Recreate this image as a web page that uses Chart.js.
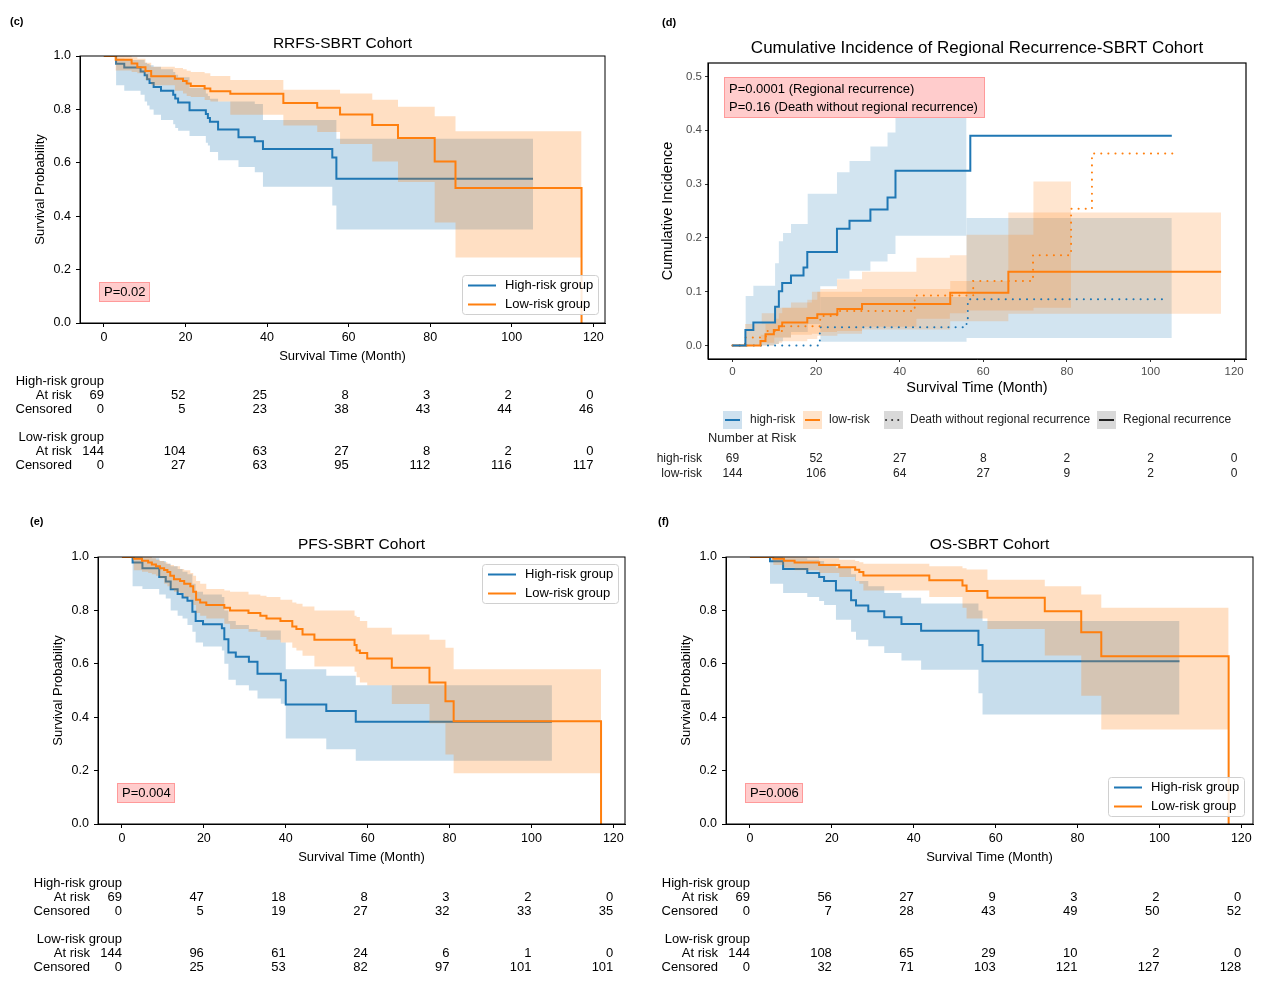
<!DOCTYPE html>
<html>
<head>
<meta charset="utf-8">
<script src="https://cdn.jsdelivr.net/npm/chart.js@4.4.0/dist/chart.umd.min.js"></script>
<style>
  body { margin: 0; background: #fff; }
  #wrap { position: relative; width: 1269px; height: 1007px; background: #fff; }
  #wrap canvas { position: absolute; left: 0; top: 0; }
</style>
</head>
<body>
<div id="wrap">
  <canvas id="panelC" width="1269" height="1007"></canvas>
  <canvas id="panelD" width="1269" height="1007"></canvas>
  <canvas id="panelE" width="1269" height="1007"></canvas>
  <canvas id="panelF" width="1269" height="1007"></canvas>
</div>
<script>
// ---- shared ticks ----
const xTicks = [0, 20, 40, 60, 80, 100, 120];
const survTicks = [0, 0.2, 0.4, 0.6, 0.8, 1.0];
const ciTicks = [0, 0.1, 0.2, 0.3, 0.4, 0.5];

// ---- (c) RRFS ----
const cHighT  = [0, 3, 5, 9, 10, 10.6, 11.2, 12.2, 14, 17, 17.5, 18.2, 21, 25, 25.5, 26, 28, 33, 37, 39, 56, 57, 105.2];
const cHighS  = [1, 0.971, 0.957, 0.942, 0.928, 0.913, 0.899, 0.884, 0.870, 0.855, 0.841, 0.826, 0.797, 0.783, 0.768, 0.754, 0.725, 0.696, 0.681, 0.652, 0.62, 0.54, 0.54];
const cHighLo = [1, 0.89, 0.87, 0.855, 0.83, 0.815, 0.80, 0.78, 0.76, 0.744, 0.73, 0.72, 0.70, 0.675, 0.665, 0.64, 0.61, 0.584, 0.565, 0.51, 0.44, 0.35, 0.35];
const cHighUp = [1, 0.99, 0.985, 0.985, 0.975, 0.97, 0.965, 0.96, 0.95, 0.94, 0.93, 0.92, 0.88, 0.86, 0.85, 0.84, 0.83, 0.83, 0.82, 0.76, 0.76, 0.69, 0.69];
const cLowT   = [0, 2.9, 6.8, 8.2, 10.2, 11.6, 17.4, 19.4, 20.3, 21.3, 24.7, 26.1, 31, 44, 52.3, 57.9, 65.8, 72.1, 81.1, 86.2, 117.1];
const cLowS   = [1, 0.986, 0.972, 0.958, 0.944, 0.924, 0.915, 0.906, 0.897, 0.888, 0.878, 0.868, 0.859, 0.824, 0.806, 0.781, 0.742, 0.693, 0.605, 0.506, 0];
const cLowLo  = [1, 0.946, 0.94, 0.935, 0.91, 0.89, 0.87, 0.86, 0.85, 0.846, 0.835, 0.83, 0.78, 0.74, 0.715, 0.67, 0.605, 0.528, 0.376, 0.245, 0.245];
const cLowUp  = [1, 1, 0.995, 0.99, 0.975, 0.96, 0.955, 0.95, 0.945, 0.94, 0.935, 0.925, 0.91, 0.874, 0.874, 0.86, 0.836, 0.81, 0.774, 0.718, 0.718];
const cHighAtRisk   = [69, 52, 25, 8, 3, 2, 0];
const cHighCensored = [0, 5, 23, 38, 43, 44, 46];
const cLowAtRisk    = [144, 104, 63, 27, 8, 2, 0];
const cLowCensored  = [0, 27, 63, 95, 112, 116, 117];

// ---- (d) cumulative incidence ----
const dHighRRT  = [0, 3.1, 5, 10.2, 11.1, 11.9, 14, 17, 17.9, 25, 28, 33, 37.1, 39, 56.9, 105.1];
const dHighRRV  = [0, 0.029, 0.043, 0.072, 0.101, 0.116, 0.130, 0.145, 0.174, 0.217, 0.232, 0.253, 0.275, 0.325, 0.39, 0.39];
const dHighDT   = [0, 20.9, 56, 56.3, 104.2];
const dHighDV   = [0, 0.034, 0.043, 0.086, 0.086];
const dLowRRT   = [0, 6.7, 7.9, 9.9, 11.1, 11.9, 17.9, 20.3, 25.1, 31, 52.1, 66, 116.9];
const dLowRRV   = [0, 0.0085, 0.021, 0.029, 0.036, 0.043, 0.051, 0.058, 0.068, 0.077, 0.098, 0.137, 0.137];
const dLowDT    = [0, 3, 8, 12, 21, 25, 43.6, 57.6, 71.9, 81, 86, 106];
const dLowDV    = [0, 0.015, 0.027, 0.036, 0.055, 0.064, 0.093, 0.12, 0.168, 0.254, 0.357, 0.357];
const dHighRRBandT  = [3.1, 5, 10.2, 11.1, 12.1, 14, 18, 21, 25, 28, 33, 37.1, 39, 56];
const dHighRRBandLo = [0, 0, 0.003, 0.008, 0.015, 0.025, 0.04, 0.11, 0.124, 0.139, 0.156, 0.17, 0.204, 0.204];
const dHighRRBandUp = [0.092, 0.111, 0.153, 0.194, 0.209, 0.226, 0.282, 0.282, 0.322, 0.343, 0.37, 0.396, 0.45, 0.45];
const dHighDBandT   = [21, 56, 105.1];
const dHighDBandLo  = [0.007, 0.014, 0.014];
const dHighDBandUp  = [0.09, 0.237, 0.237];
const dLowRRBandT   = [6.7, 7.9, 9.9, 11.1, 11.9, 17.9, 20.3, 25.1, 31, 52.1, 66, 116.9];
const dLowRRBandLo  = [0, 0, 0.003, 0.005, 0.008, 0.012, 0.018, 0.022, 0.03, 0.045, 0.059, 0.059];
const dLowRRBandUp  = [0.02, 0.04, 0.05, 0.06, 0.07, 0.085, 0.1, 0.1, 0.105, 0.12, 0.247, 0.247];
const dLowDBandT    = [3, 7, 10, 14, 19, 21, 25, 31, 44, 52, 56, 72, 81];
const dLowDBandLo   = [0, 0.005, 0.015, 0.02, 0.022, 0.025, 0.027, 0.035, 0.05, 0.06, 0.065, 0.07, 0.07];
const dLowDBandUp   = [0.04, 0.06, 0.07, 0.08, 0.1, 0.105, 0.123, 0.137, 0.163, 0.168, 0.206, 0.305, 0.305];
const dHighAtRisk = [69, 52, 27, 8, 2, 2, 0];
const dLowAtRisk  = [144, 106, 64, 27, 9, 2, 0];

// ---- (e) PFS ----
const eHighT  = [0, 2.6, 5, 9.1, 10.7, 11.9, 13.6, 14.8, 16, 17.2, 18, 19.8, 24.4, 25, 26, 27.8, 31, 33.1, 38.8, 40, 49.9, 57.1, 105];
const eHighS  = [1, 0.979, 0.958, 0.925, 0.908, 0.879, 0.861, 0.848, 0.836, 0.795, 0.76, 0.748, 0.733, 0.692, 0.642, 0.626, 0.608, 0.563, 0.538, 0.448, 0.423, 0.383, 0.383];
const eHighLo = [1, 0.89, 0.88, 0.86, 0.845, 0.80, 0.78, 0.77, 0.745, 0.72, 0.68, 0.665, 0.65, 0.60, 0.54, 0.52, 0.50, 0.47, 0.45, 0.32, 0.28, 0.237, 0.237];
const eHighUp = [1, 1, 0.995, 0.985, 0.975, 0.965, 0.955, 0.945, 0.935, 0.90, 0.87, 0.86, 0.85, 0.80, 0.76, 0.745, 0.73, 0.725, 0.68, 0.58, 0.555, 0.52, 0.52];
const eLowT   = [0, 2.9, 4.9, 6.4, 7.3, 8.3, 9.3, 10.3, 11.1, 11.8, 12.7, 14.2, 15.2, 16.7, 17.4, 18.1, 19.1, 20.6, 25, 26.4, 30.9, 33.8, 35.3, 38.7, 41.6, 42.6, 44.1, 47, 56.8, 57.3, 58.1, 59.9, 65.9, 75.1, 79, 81, 117];
const eLowS   = [1, 0.993, 0.986, 0.979, 0.972, 0.965, 0.958, 0.951, 0.944, 0.930, 0.917, 0.910, 0.900, 0.890, 0.870, 0.840, 0.830, 0.820, 0.810, 0.800, 0.790, 0.780, 0.770, 0.760, 0.740, 0.730, 0.710, 0.690, 0.670, 0.650, 0.640, 0.620, 0.585, 0.530, 0.460, 0.385, 0];
const eLowLo  = [1, 0.95, 0.945, 0.94, 0.935, 0.93, 0.92, 0.90, 0.89, 0.88, 0.87, 0.865, 0.85, 0.84, 0.82, 0.79, 0.78, 0.77, 0.75, 0.73, 0.72, 0.70, 0.69, 0.68, 0.66, 0.65, 0.63, 0.59, 0.57, 0.55, 0.53, 0.52, 0.449, 0.377, 0.26, 0.19, 0.19];
const eLowUp  = [1, 1, 1, 1, 0.995, 0.99, 0.985, 0.98, 0.975, 0.97, 0.965, 0.955, 0.95, 0.94, 0.93, 0.91, 0.90, 0.88, 0.875, 0.87, 0.86, 0.855, 0.85, 0.84, 0.83, 0.825, 0.815, 0.80, 0.78, 0.775, 0.76, 0.735, 0.71, 0.69, 0.66, 0.58, 0.58];
const eHighAtRisk   = [69, 47, 18, 8, 3, 2, 0];
const eHighCensored = [0, 5, 19, 27, 32, 33, 35];
const eLowAtRisk    = [144, 96, 61, 24, 6, 1, 0];
const eLowCensored  = [0, 25, 53, 82, 97, 101, 101];

// ---- (f) OS ----
const fHighT  = [0, 4.9, 8.1, 14, 16.9, 18.1, 21, 24.7, 25.9, 28.9, 32.8, 37, 41.8, 55.8, 56.8, 104.9];
const fHighS  = [1, 0.984, 0.955, 0.94, 0.925, 0.91, 0.875, 0.838, 0.818, 0.797, 0.774, 0.749, 0.724, 0.67, 0.61, 0.61];
const fHighLo = [1, 0.90, 0.865, 0.85, 0.835, 0.82, 0.765, 0.72, 0.69, 0.666, 0.64, 0.612, 0.578, 0.49, 0.41, 0.41];
const fHighUp = [1, 1, 0.995, 0.99, 0.985, 0.975, 0.96, 0.935, 0.91, 0.89, 0.865, 0.847, 0.826, 0.80, 0.76, 0.76];
const fLowT   = [0, 5.7, 8.3, 10.9, 16.9, 21.8, 25.7, 26.7, 27.7, 43.8, 51.9, 52.9, 58, 72, 80.9, 85.8, 116.9];
const fLowS   = [1, 0.993, 0.986, 0.979, 0.970, 0.962, 0.952, 0.944, 0.931, 0.913, 0.893, 0.873, 0.847, 0.797, 0.718, 0.628, 0];
const fLowLo  = [1, 0.97, 0.96, 0.95, 0.94, 0.925, 0.91, 0.90, 0.875, 0.85, 0.81, 0.77, 0.73, 0.631, 0.48, 0.354, 0.354];
const fLowUp  = [1, 1, 1, 1, 0.995, 0.99, 0.985, 0.98, 0.975, 0.965, 0.958, 0.953, 0.915, 0.89, 0.86, 0.81, 0.81];
const fHighAtRisk   = [69, 56, 27, 9, 3, 2, 0];
const fHighCensored = [0, 7, 28, 43, 49, 50, 52];
const fLowAtRisk    = [144, 108, 65, 29, 10, 2, 0];
const fLowCensored  = [0, 32, 71, 103, 121, 127, 128];

// ---- styling ----
const FONT = '"Liberation Sans", Arial, Helvetica, sans-serif';
const BLUE = '#1f77b4';
const ORANGE = '#ff7f0e';
const BLUE_BAND = 'rgba(31,119,180,0.25)';
const ORANGE_BAND = 'rgba(255,127,14,0.25)';
const W = 1269, H = 1007;

const pts = (t, v) => t.map((x, i) => ({ x, y: v[i] }));

function text(ctx, str, x, y, o = {}) {
  ctx.save();
  ctx.font = `${o.weight || 'normal'} ${o.size || 13}px ${FONT}`;
  ctx.fillStyle = o.color || '#000';
  ctx.textAlign = o.align || 'left';
  ctx.textBaseline = 'middle';
  if (o.rot) {
    ctx.translate(x, y);
    ctx.rotate(o.rot);
    ctx.fillText(str, 0, 0);
  } else {
    ctx.fillText(str, x, y);
  }
  ctx.restore();
}

function pBox(ctx, lines, x, y, w, h, size, lineYs) {
  ctx.save();
  ctx.fillStyle = '#ffcccc';
  ctx.strokeStyle = '#ff9a9a';
  ctx.lineWidth = 1;
  ctx.fillRect(x, y, w, h);
  ctx.strokeRect(x + 0.5, y + 0.5, w - 1, h - 1);
  ctx.restore();
  lines.forEach((s, i) => text(ctx, s, x + 5, y + lineYs[i], { size }));
}

function mplLegend(ctx, x, y, w, h) {
  ctx.save();
  ctx.fillStyle = 'rgba(255,255,255,0.85)';
  ctx.strokeStyle = '#d0d0d0';
  ctx.lineWidth = 1;
  ctx.beginPath();
  ctx.roundRect(x + 0.5, y + 0.5, w, h, 3);
  ctx.fill();
  ctx.stroke();
  [[BLUE, 'High-risk group'], [ORANGE, 'Low-risk group']].forEach(([c, s], i) => {
    const yy = y + 10.5 + i * 19;
    ctx.strokeStyle = c;
    ctx.lineWidth = 2;
    ctx.beginPath();
    ctx.moveTo(x + 6, yy);
    ctx.lineTo(x + 34, yy);
    ctx.stroke();
    text(ctx, s, x + 43, yy, { size: 13 });
  });
  ctx.restore();
}

function bandLow(t, v, order) {
  return { data: pts(t, v), borderWidth: 0, borderColor: 'rgba(0,0,0,0)', pointRadius: 0, stepped: 'before', fill: false, order };
}
function bandHigh(t, v, color, order) {
  return { data: pts(t, v), borderWidth: 0, borderColor: 'rgba(0,0,0,0)', pointRadius: 0, stepped: 'before', fill: '-1', backgroundColor: color, order };
}
function stepLine(t, v, color, order, dash) {
  return { data: pts(t, v), borderColor: color, borderWidth: 2, pointRadius: 0, stepped: 'before', fill: false, order, borderDash: dash || [], borderCapStyle: dash ? 'round' : 'butt' };
}

function axisOpts(min, max, ticks, fmt, fit, font, tickColor, labelColor, tickLen, pad) {
  return {
    type: 'linear', min, max,
    afterBuildTicks: s => { s.ticks = ticks.map(v => ({ value: v })); },
    afterFit: fit,
    grid: { drawOnChartArea: false, drawTicks: true, tickLength: tickLen, color: tickColor, tickColor },
    border: { display: true, color: '#000', width: 1 },
    ticks: { autoSkip: false, maxRotation: 0, padding: pad, color: labelColor, font: { family: FONT, size: font }, callback: fmt }
  };
}

// KM panel with risk table (panels c, e, f)
function kmChart(id, box, d) {
  const Wy = 45, Hx = 22;
  new Chart(document.getElementById(id), {
    type: 'line',
    data: {
      datasets: [
        bandLow(d.hiT, d.hiLo, 4), bandHigh(d.hiT, d.hiUp, BLUE_BAND, 4),
        stepLine(d.hiT, d.hiS, BLUE, 3),
        bandLow(d.loT, d.loLo, 2), bandHigh(d.loT, d.loUp, ORANGE_BAND, 2),
        stepLine(d.loT, d.loS, ORANGE, 1)
      ]
    },
    options: {
      responsive: false, animation: false, events: [],
      layout: { padding: { left: box.L - Wy, right: W - box.R, top: box.T, bottom: H - box.B - Hx } },
      plugins: { legend: { display: false }, tooltip: { enabled: false } },
      scales: {
        x: axisOpts(-5.85, 122.85, xTicks, v => String(v), s => { s.height = Hx; }, 12.5, '#000', '#000', 4, 3),
        y: axisOpts(0, 1, survTicks, v => v.toFixed(1), s => { s.width = Wy; }, 12.5, '#000', '#000', 4, 5)
      }
    },
    plugins: [{
      id: 'deco' + id,
      afterDatasetsDraw(chart) {
        const { ctx, chartArea: a } = chart;
        ctx.save();
        ctx.strokeStyle = '#000';
        ctx.lineWidth = 1;
        ctx.strokeRect(a.left, a.top, a.right - a.left, a.bottom - a.top);
        ctx.restore();
      },
      afterDraw(chart) {
        const { ctx, chartArea: a } = chart;
        const cx = (a.left + a.right) / 2;
        text(ctx, d.panel, d.panelX, d.panelY, { size: 11, weight: 'bold' });
        text(ctx, d.title, cx, a.top - 12, { size: 15.5, align: 'center' });
        text(ctx, 'Survival Time (Month)', cx, a.bottom + 33, { size: 13, align: 'center' });
        text(ctx, 'Survival Probability', a.left - 40, (a.top + a.bottom) / 2, { size: 13, align: 'center', rot: -Math.PI / 2 });
        pBox(ctx, [d.p], a.left + d.pDx, a.bottom - 41, d.pW, 20, 13, [10.5]);
        mplLegend(ctx, d.legX, d.legY, 136, 39);
        // risk table
        const xs = xTicks.map(v => chart.scales.x.getPixelForValue(v));
        const x0 = xs[0];
        const rows = [
          { group: 'High-risk group' },
          { label: 'At risk', vals: d.hiRisk },
          { label: 'Censored', vals: d.hiCens },
          { group: 'Low-risk group' },
          { label: 'At risk', vals: d.loRisk },
          { label: 'Censored', vals: d.loCens }
        ];
        rows.forEach((r, i) => {
          const y = d.tableY[i];
          if (r.group) {
            text(ctx, r.group, x0, y, { align: 'right', size: 13 });
          } else {
            text(ctx, r.label, x0 - 32, y, { align: 'right', size: 13 });
            r.vals.forEach((v, j) => text(ctx, String(v), xs[j], y, { align: 'right', size: 13 }));
          }
        });
      }
    }]
  });
}

kmChart('panelC', { L: 80, T: 56, R: 605, B: 323 }, {
  hiT: cHighT, hiS: cHighS, hiLo: cHighLo, hiUp: cHighUp,
  loT: cLowT, loS: cLowS, loLo: cLowLo, loUp: cLowUp,
  hiRisk: cHighAtRisk, hiCens: cHighCensored, loRisk: cLowAtRisk, loCens: cLowCensored,
  title: 'RRFS-SBRT Cohort', p: 'P=0.02', pDx: 19, pW: 51,
  panel: '(c)', panelX: 10, panelY: 22,
  legX: 462, legY: 275,
  tableY: [381, 395, 409, 437, 451, 465]
});

kmChart('panelE', { L: 98, T: 557, R: 625, B: 824 }, {
  hiT: eHighT, hiS: eHighS, hiLo: eHighLo, hiUp: eHighUp,
  loT: eLowT, loS: eLowS, loLo: eLowLo, loUp: eLowUp,
  hiRisk: eHighAtRisk, hiCens: eHighCensored, loRisk: eLowAtRisk, loCens: eLowCensored,
  title: 'PFS-SBRT Cohort', p: 'P=0.004', pDx: 19, pW: 58,
  panel: '(e)', panelX: 30, panelY: 522,
  legX: 482, legY: 564,
  tableY: [883, 897, 911, 939, 953, 967]
});

kmChart('panelF', { L: 726, T: 557, R: 1253, B: 824 }, {
  hiT: fHighT, hiS: fHighS, hiLo: fHighLo, hiUp: fHighUp,
  loT: fLowT, loS: fLowS, loLo: fLowLo, loUp: fLowUp,
  hiRisk: fHighAtRisk, hiCens: fHighCensored, loRisk: fLowAtRisk, loCens: fLowCensored,
  title: 'OS-SBRT Cohort', p: 'P=0.006', pDx: 19, pW: 58,
  panel: '(f)', panelX: 658, panelY: 522,
  legX: 1108, legY: 777,
  tableY: [883, 897, 911, 939, 953, 967]
});

// ---- (d) cumulative incidence panel ----
(function () {
  const box = { L: 708, T: 63, R: 1246, B: 359 };
  const Wy = 36, Hx = 24;
  const BAND_B = 'rgba(31,119,180,0.2)';
  const BAND_O = 'rgba(255,127,14,0.2)';
  const DOT = [0.1, 7];
  new Chart(document.getElementById('panelD'), {
    type: 'line',
    data: {
      datasets: [
        bandLow(dHighRRBandT, dHighRRBandLo, 6), bandHigh(dHighRRBandT, dHighRRBandUp, BAND_B, 6),
        bandLow(dHighDBandT, dHighDBandLo, 6), bandHigh(dHighDBandT, dHighDBandUp, BAND_B, 6),
        bandLow(dLowRRBandT, dLowRRBandLo, 5), bandHigh(dLowRRBandT, dLowRRBandUp, BAND_O, 5),
        bandLow(dLowDBandT, dLowDBandLo, 5), bandHigh(dLowDBandT, dLowDBandUp, BAND_O, 5),
        stepLine(dHighDT, dHighDV, BLUE, 4, DOT),
        stepLine(dLowDT, dLowDV, ORANGE, 3, DOT),
        stepLine(dLowRRT, dLowRRV, ORANGE, 2),
        stepLine(dHighRRT, dHighRRV, BLUE, 1)
      ]
    },
    options: {
      responsive: false, animation: false, events: [],
      layout: { padding: { left: box.L - Wy, right: W - box.R, top: box.T, bottom: H - box.B - Hx } },
      plugins: { legend: { display: false }, tooltip: { enabled: false } },
      scales: {
        x: axisOpts(-5.85, 122.85, xTicks, v => String(v), s => { s.height = Hx; }, 11.5, '#333', '#4d4d4d', 3, 3),
        y: axisOpts(-0.025, 0.525, ciTicks, v => v.toFixed(1), s => { s.width = Wy; }, 11.5, '#333', '#4d4d4d', 3, 3)
      }
    },
    plugins: [{
      id: 'decoD',
      afterDatasetsDraw(chart) {
        const { ctx, chartArea: a } = chart;
        ctx.save();
        ctx.strokeStyle = '#000';
        ctx.lineWidth = 1.2;
        ctx.strokeRect(a.left, a.top, a.right - a.left, a.bottom - a.top);
        ctx.restore();
      },
      afterDraw(chart) {
        const { ctx, chartArea: a } = chart;
        text(ctx, '(d)', 662, 23, { size: 11, weight: 'bold' });
        text(ctx, 'Cumulative Incidence of Regional Recurrence-SBRT Cohort', 977, 48, { size: 17, align: 'center' });
        text(ctx, 'Survival Time (Month)', (a.left + a.right) / 2, 388, { size: 14.5, align: 'center' });
        text(ctx, 'Cumulative Incidence', 668, (a.top + a.bottom) / 2, { size: 14.5, align: 'center', rot: -Math.PI / 2 });
        pBox(ctx, ['P=0.0001 (Regional recurrence)', 'P=0.16 (Death without regional recurrence)'], 724, 77, 261, 41, 13, [12, 30]);

        // legend
        const ly = 420;
        const key = (x, bg, color, dash) => {
          ctx.save();
          ctx.fillStyle = bg;
          ctx.fillRect(x, ly - 9, 19, 18);
          ctx.strokeStyle = color;
          ctx.lineWidth = 2;
          ctx.setLineDash(dash || []);
          ctx.lineCap = dash ? 'round' : 'butt';
          ctx.beginPath();
          ctx.moveTo(x + 2, ly);
          ctx.lineTo(x + 17, ly);
          ctx.stroke();
          ctx.restore();
        };
        key(723, 'rgba(31,119,180,0.22)', BLUE);
        text(ctx, 'high-risk', 750, ly, { size: 12, color: '#222' });
        key(803, 'rgba(255,127,14,0.22)', ORANGE);
        text(ctx, 'low-risk', 829, ly, { size: 12, color: '#222' });
        key(884, '#d9d9d9', '#333', [0.1, 6]);
        text(ctx, 'Death without regional recurrence', 910, ly, { size: 12, color: '#222' });
        key(1097, '#d9d9d9', '#222');
        text(ctx, 'Regional recurrence', 1123, ly, { size: 12, color: '#222' });

        // number at risk
        text(ctx, 'Number at Risk', 708, 438, { size: 12.8, color: '#222' });
        const xs = xTicks.map(v => chart.scales.x.getPixelForValue(v));
        text(ctx, 'high-risk', 702, 459, { size: 12, align: 'right', color: '#222' });
        text(ctx, 'low-risk', 702, 474, { size: 12, align: 'right', color: '#222' });
        dHighAtRisk.forEach((v, i) => text(ctx, String(v), xs[i], 459, { size: 12, align: 'center', color: '#222' }));
        dLowAtRisk.forEach((v, i) => text(ctx, String(v), xs[i], 474, { size: 12, align: 'center', color: '#222' }));
      }
    }]
  });
})();
</script>
</body>
</html>
